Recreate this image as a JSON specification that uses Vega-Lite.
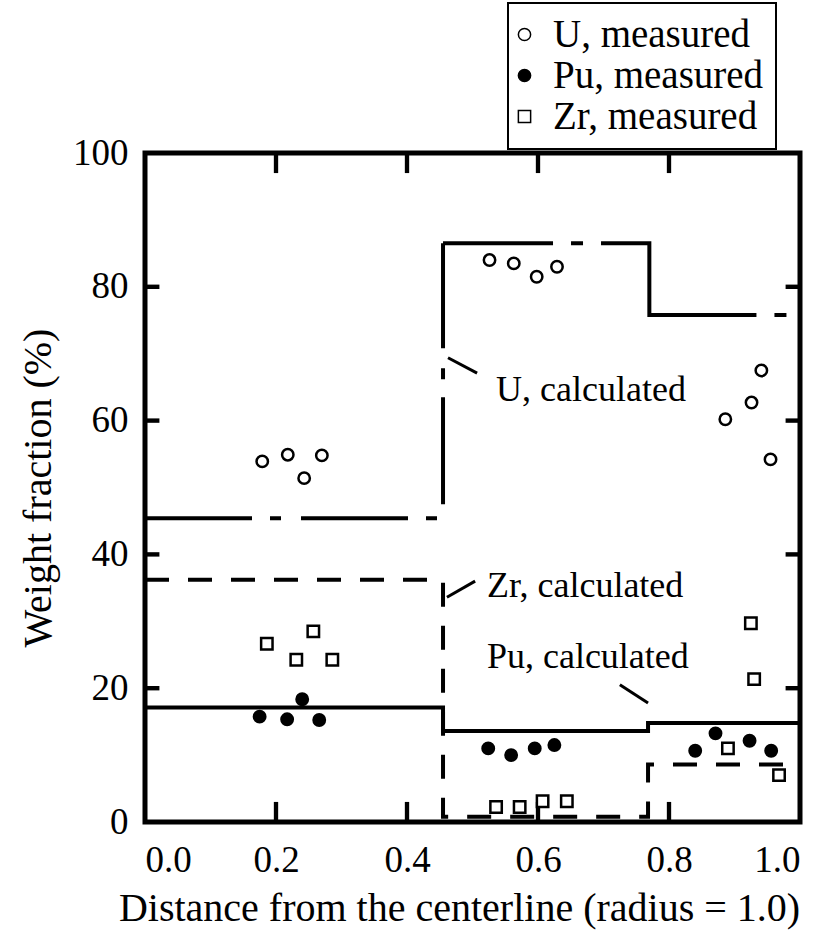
{
  "$schema": "https://vega.github.io/schema/vega-lite/v6.json",
  "width": 655,
  "height": 669,
  "autosize": {"type": "none"},
  "padding": {"left": 145, "top": 153, "right": 20, "bottom": 113},
  "background": "white",
  "config": {
    "view": {"stroke": "black", "strokeWidth": 5},
    "font": "Liberation Serif",
    "legend": {"strokeWidth": 2},
    "axis": {
      "domain": false,
      "grid": false,
      "ticks": false,
      "tickSize": 0,
      "labelFont": "Liberation Serif",
      "labelFontSize": 37,
      "labelColor": "black",
      "titleFont": "Liberation Serif",
      "titleFontSize": 40,
      "titleFontWeight": "normal",
      "titleColor": "black"
    }
  },
  "datasets": {
    "calc": [
      {"element": "U-low", "i": 0, "r": 0, "w": 45.4},
      {"element": "U-low", "i": 1, "r": 0.455, "w": 45.4},
      {"element": "U-low", "i": 2, "r": 0.455, "w": 86.5},
      {"element": "U-high", "i": 0, "r": 0.455, "w": 86.5},
      {"element": "U-high", "i": 1, "r": 0.77, "w": 86.5},
      {"element": "U-high", "i": 2, "r": 0.77, "w": 75.8},
      {"element": "U-high", "i": 3, "r": 1.0, "w": 75.8},
      {"element": "Zr", "i": 0, "r": 0, "w": 36.2},
      {"element": "Zr", "i": 1, "r": 0.455, "w": 36.2},
      {"element": "Zr", "i": 2, "r": 0.455, "w": 0.8},
      {"element": "Zr", "i": 3, "r": 0.768, "w": 0.8},
      {"element": "Zr", "i": 4, "r": 0.768, "w": 8.6},
      {"element": "Zr", "i": 5, "r": 1.0, "w": 8.6},
      {"element": "Pu", "i": 0, "r": 0, "w": 17.1},
      {"element": "Pu", "i": 1, "r": 0.455, "w": 17.1},
      {"element": "Pu", "i": 2, "r": 0.455, "w": 13.6},
      {"element": "Pu", "i": 3, "r": 0.768, "w": 13.6},
      {"element": "Pu", "i": 4, "r": 0.768, "w": 14.8},
      {"element": "Pu", "i": 5, "r": 1.0, "w": 14.8}
    ],
    "frameticks": [
      {"r": 0.1967, "r2": 0.2033, "w": 0, "w2": 3.0},
      {"r": 0.3967, "r2": 0.4033, "w": 0, "w2": 3.0},
      {"r": 0.5967, "r2": 0.6033, "w": 0, "w2": 3.0},
      {"r": 0.7967, "r2": 0.8033, "w": 0, "w2": 3.0},
      {"r": 0.1967, "r2": 0.2033, "w": 97.0, "w2": 100},
      {"r": 0.3967, "r2": 0.4033, "w": 97.0, "w2": 100},
      {"r": 0.5967, "r2": 0.6033, "w": 97.0, "w2": 100},
      {"r": 0.7967, "r2": 0.8033, "w": 97.0, "w2": 100},
      {"r": 0, "r2": 0.022, "w": 19.67, "w2": 20.33},
      {"r": 0, "r2": 0.022, "w": 39.67, "w2": 40.33},
      {"r": 0, "r2": 0.022, "w": 59.67, "w2": 60.33},
      {"r": 0, "r2": 0.022, "w": 79.67, "w2": 80.33},
      {"r": 0.978, "r2": 1, "w": 19.67, "w2": 20.33},
      {"r": 0.978, "r2": 1, "w": 39.67, "w2": 40.33},
      {"r": 0.978, "r2": 1, "w": 59.67, "w2": 60.33},
      {"r": 0.978, "r2": 1, "w": 79.67, "w2": 80.33}
    ],
    "leaders": [
      {"r": 0.4626, "w": 69.4, "r2": 0.507, "w2": 67.1},
      {"r": 0.461, "w": 33.6, "r2": 0.504, "w2": 36.0},
      {"r": 0.725, "w": 20.5, "r2": 0.768, "w2": 17.8}
    ],
    "measured": [
      {"series": "U, measured", "r": 0.179, "w": 53.9},
      {"series": "U, measured", "r": 0.218, "w": 54.9},
      {"series": "U, measured", "r": 0.243, "w": 51.4},
      {"series": "U, measured", "r": 0.270, "w": 54.8},
      {"series": "U, measured", "r": 0.526, "w": 84.0},
      {"series": "U, measured", "r": 0.563, "w": 83.5},
      {"series": "U, measured", "r": 0.598, "w": 81.5},
      {"series": "U, measured", "r": 0.629, "w": 83.0},
      {"series": "U, measured", "r": 0.886, "w": 60.2},
      {"series": "U, measured", "r": 0.926, "w": 62.7},
      {"series": "U, measured", "r": 0.941, "w": 67.5},
      {"series": "U, measured", "r": 0.955, "w": 54.2},
      {"series": "Pu, measured", "r": 0.175, "w": 15.75},
      {"series": "Pu, measured", "r": 0.217, "w": 15.35},
      {"series": "Pu, measured", "r": 0.240, "w": 18.35},
      {"series": "Pu, measured", "r": 0.266, "w": 15.25},
      {"series": "Pu, measured", "r": 0.524, "w": 11.0},
      {"series": "Pu, measured", "r": 0.559, "w": 10.0},
      {"series": "Pu, measured", "r": 0.595, "w": 11.0},
      {"series": "Pu, measured", "r": 0.625, "w": 11.5},
      {"series": "Pu, measured", "r": 0.840, "w": 10.65},
      {"series": "Pu, measured", "r": 0.871, "w": 13.25},
      {"series": "Pu, measured", "r": 0.923, "w": 12.15},
      {"series": "Pu, measured", "r": 0.956, "w": 10.65},
      {"series": "Zr, measured", "r": 0.186, "w": 26.65},
      {"series": "Zr, measured", "r": 0.257, "w": 28.5},
      {"series": "Zr, measured", "r": 0.231, "w": 24.25},
      {"series": "Zr, measured", "r": 0.286, "w": 24.25},
      {"series": "Zr, measured", "r": 0.536, "w": 2.25},
      {"series": "Zr, measured", "r": 0.572, "w": 2.25},
      {"series": "Zr, measured", "r": 0.607, "w": 3.1},
      {"series": "Zr, measured", "r": 0.644, "w": 3.1},
      {"series": "Zr, measured", "r": 0.890, "w": 11.0},
      {"series": "Zr, measured", "r": 0.968, "w": 7.0},
      {"series": "Zr, measured", "r": 0.930, "w": 21.35},
      {"series": "Zr, measured", "r": 0.925, "w": 29.7}
    ],
    "notes": [
      {"label": "U, calculated", "r": 0.536, "w": 62.9},
      {"label": "Zr, calculated", "r": 0.522, "w": 33.6},
      {"label": "Pu, calculated", "r": 0.522, "w": 23.0}
    ]
  },
  "layer": [
    {
      "data": {"name": "calc"},
      "transform": [{"filter": "datum.element === 'U-low'"}],
      "mark": {"type": "line", "stroke": "black", "strokeWidth": 4, "strokeDash": [107, 18, 11, 20]},
      "encoding": {
        "x": {
          "field": "r", "type": "quantitative",
          "scale": {"domain": [0, 1], "nice": false, "zero": false},
          "axis": {
            "orient": "bottom",
            "values": [0, 0.2, 0.4, 0.6, 0.8, 1.0],
            "format": ".1f",
            "labelPadding": 20,
            "title": "Distance from the centerline (radius = 1.0)",
            "titlePadding": 10,
            "titleX": 314
          }
        },
        "y": {
          "field": "w", "type": "quantitative",
          "scale": {"domain": [0, 100], "nice": false, "zero": false},
          "axis": {
            "orient": "left",
            "values": [0, 20, 40, 60, 80, 100],
            "format": "d",
            "labelPadding": 17,
            "title": "Weight fraction (%)",
            "titlePadding": 14
          }
        },
        "order": {"field": "i", "type": "quantitative"}
      }
    },
    {
      "data": {"name": "calc"},
      "transform": [{"filter": "datum.element === 'U-high'"}],
      "mark": {"type": "line", "stroke": "black", "strokeWidth": 4, "strokeDash": [110, 18, 12, 18, 227, 18, 12, 60]},
      "encoding": {
        "x": {"field": "r", "type": "quantitative"},
        "y": {"field": "w", "type": "quantitative"},
        "order": {"field": "i", "type": "quantitative"}
      }
    },
    {
      "data": {"name": "calc"},
      "transform": [{"filter": "datum.element === 'Zr'"}],
      "mark": {"type": "line", "stroke": "black", "strokeWidth": 4, "strokeDash": [24, 19]},
      "encoding": {
        "x": {"field": "r", "type": "quantitative"},
        "y": {"field": "w", "type": "quantitative"},
        "order": {"field": "i", "type": "quantitative"}
      }
    },
    {
      "data": {"name": "calc"},
      "transform": [{"filter": "datum.element === 'Pu'"}],
      "mark": {"type": "line", "stroke": "black", "strokeWidth": 4},
      "encoding": {
        "x": {"field": "r", "type": "quantitative"},
        "y": {"field": "w", "type": "quantitative"},
        "order": {"field": "i", "type": "quantitative"}
      }
    },
    {
      "data": {"name": "frameticks"},
      "mark": {"type": "rect", "fill": "black", "opacity": 1},
      "encoding": {
        "x": {"field": "r", "type": "quantitative"},
        "x2": {"field": "r2"},
        "y": {"field": "w", "type": "quantitative"},
        "y2": {"field": "w2"}
      }
    },
    {
      "data": {"name": "leaders"},
      "mark": {"type": "rule", "stroke": "black", "strokeWidth": 3},
      "encoding": {
        "x": {"field": "r", "type": "quantitative"},
        "y": {"field": "w", "type": "quantitative"},
        "x2": {"field": "r2"},
        "y2": {"field": "w2"}
      }
    },
    {
      "data": {"name": "notes"},
      "mark": {"type": "text", "font": "Liberation Serif", "fontSize": 36, "align": "left", "baseline": "alphabetic", "color": "black"},
      "encoding": {
        "x": {"field": "r", "type": "quantitative"},
        "y": {"field": "w", "type": "quantitative"},
        "text": {"field": "label"}
      }
    },
    {
      "data": {"name": "measured"},
      "mark": {"type": "point", "filled": true, "stroke": "black", "strokeWidth": 2.5, "size": 130, "opacity": 1},
      "encoding": {
        "x": {"field": "r", "type": "quantitative"},
        "y": {"field": "w", "type": "quantitative"},
        "shape": {
          "field": "series", "type": "nominal",
          "scale": {"domain": ["U, measured", "Pu, measured", "Zr, measured"], "range": ["circle", "circle", "square"]},
          "legend": {
            "orient": "none", "legendX": 363, "legendY": -150, "title": null,
            "strokeColor": "black", "padding": 12,
            "labelFont": "Liberation Serif", "labelFontSize": 39, "labelColor": "black", "labelOffset": 9, "labelLimit": 500,
            "symbolSize": 150, "symbolOffset": -15, "rowPadding": 1,
            "encode": {"symbols": {"update": {"stroke": {"value": "black"}, "strokeWidth": {"value": 2.5}}}}
          }
        },
        "fill": {
          "field": "series", "type": "nominal",
          "scale": {"domain": ["U, measured", "Pu, measured", "Zr, measured"], "range": ["white", "black", "white"]},
          "legend": {
            "orient": "none", "legendX": 363, "legendY": -150, "title": null,
            "strokeColor": "black", "padding": 12,
            "labelFont": "Liberation Serif", "labelFontSize": 39, "labelColor": "black", "labelOffset": 9, "labelLimit": 500,
            "symbolSize": 150, "symbolOffset": -15, "rowPadding": 1,
            "encode": {"symbols": {"update": {"stroke": {"value": "black"}, "strokeWidth": {"value": 2.5}}}}
          }
        }
      }
    }
  ]
}
